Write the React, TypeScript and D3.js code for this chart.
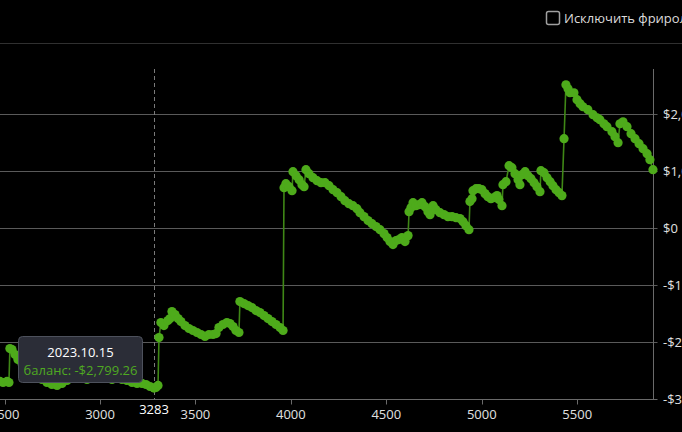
import React, { useEffect, useRef } from "react";
import * as d3 from "d3";

// Game number (x) and running balance in $ (y)
const gameNumbers: number[] = [
  2476, 2492, 2513, 2523, 2528, 2539, 2555, 2570, 2591, 2617, 2644, 2670, 2696, 2722, 2748, 2775, 2801, 2827, 2853, 2879,
  2906, 2932, 2958, 2984, 3010, 3037, 3063, 3089, 3115, 3141, 3168, 3194, 3220, 3241, 3262, 3283, 3293, 3304,
  3309, 3319, 3335, 3356, 3367, 3377, 3393, 3409, 3424, 3445, 3466, 3487, 3508, 3529, 3550, 3571, 3592, 3608, 3623, 3644,
  3665, 3681, 3697, 3712, 3728,
  3733, 3754, 3775, 3796, 3817, 3838, 3859, 3880, 3901, 3922, 3943, 3959,
  3964, 3974, 3990, 4006,
  4011, 4027, 4043, 4058, 4069, 4079, 4095, 4116, 4137, 4158, 4179, 4200, 4221, 4242, 4263, 4283, 4304, 4325, 4346, 4362,
  4383, 4404, 4425, 4446, 4467, 4488, 4504, 4519, 4535, 4551, 4566, 4582, 4598, 4614,
  4619, 4629, 4640, 4655, 4671, 4687, 4703, 4718, 4729, 4745, 4760, 4781, 4802, 4823, 4844, 4865, 4886, 4902, 4917, 4933,
  4938, 4949, 4954, 4970, 4985, 5001, 5017, 5032, 5048, 5064, 5080, 5090, 5106,
  5111, 5127,
  5143, 5158, 5174, 5190, 5200, 5211, 5227, 5242, 5258, 5274, 5289, 5305,
  5310, 5326, 5342, 5358, 5373, 5389, 5405, 5420,
  5431, 5441, 5452, 5462, 5483, 5499, 5515, 5530, 5556, 5583, 5604, 5619, 5640, 5656, 5682, 5698, 5714,
  5724, 5740, 5761, 5782, 5803, 5824, 5845, 5866, 5881, 5897,
];

const balances: number[] = [
  -2684, -2702, -2684, -2702, -2106, -2124, -2212, -2299, -2369, -2439, -2509, -2579, -2649, -2702, -2737, -2754, -2719, -2667, -2632, -2614,
  -2632, -2649, -2614, -2597, -2614, -2632, -2649, -2632, -2649, -2667, -2702, -2719, -2719, -2737, -2772, -2799.26, -2789, -2754,
  -1914, -1651, -1704, -1616, -1581, -1459, -1511, -1581, -1634, -1704, -1756, -1791, -1826, -1861, -1896, -1861, -1861, -1844, -1739, -1686,
  -1651, -1669, -1721, -1791, -1826,
  -1284, -1319, -1354, -1389, -1441, -1476, -1529, -1581, -1634, -1686, -1739, -1791,
  713, 783, 730, 660,
  993, 923, 853, 765, 730, 1028, 958, 888, 835, 800, 800, 748, 678, 625, 555, 485, 432, 397, 345, 275,
  205, 135, 82, 30, -23, -93, -163, -233, -285, -215, -198, -163, -233, -128,
  292, 362, 450, 397, 415, 450, 380, 292, 240, 397, 327, 275, 240, 205, 205, 187, 170, 117, 47, -23,
  468, 520, 660, 695, 695, 678, 608, 555, 520, 538, 573, 503, 397,
  765, 818,
  1098, 1063, 958, 853, 765, 940, 993, 923, 870, 800, 730, 643,
  1010, 975, 888, 818, 748, 678, 625, 573,
  1571, 2516, 2446, 2376, 2376, 2254, 2184, 2131, 2079, 1991, 1938, 1904, 1833, 1781, 1693, 1606, 1501,
  1833, 1868, 1781, 1658, 1571, 1483, 1396, 1308, 1203, 1028,
];

const xTickValues: number[] = [2500, 3000, 3500, 4000, 4500, 5000, 5500];
const yTickValues: number[] = [-3000, -2000, -1000, 0, 1000, 2000];

const pointerGame = 3283;
const tooltipDate = "2023.10.15";
const tooltipLabel = "баланс";
const tooltipBalance = -2799.26;
const checkboxLabel = "Исключить фрироллы";

const FONT = "'Open Sans', 'Noto Sans', sans-serif";

function money(v: number, digits = 0): string {
  const f = d3.format(digits ? `,.${digits}f` : ",");
  return (v < 0 ? "-$" : "$") + f(Math.abs(v));
}

export default function App() {
  const ref = useRef<SVGSVGElement | null>(null);

  useEffect(() => {
    const W = 682;
    const H = 432;
    const plotTop = 69;
    const plotBottom = 399.5;
    const plotRight = 653.5;

    const svg = d3.select(ref.current);
    svg.selectAll("*").remove();

    const x = d3.scaleLinear().domain([3000, 5500]).range([100, 577.2]);
    const y = d3.scaleLinear().domain([-3000, 2000]).range([plotBottom, 114.2]);

    svg.append("rect").attr("width", W).attr("height", H).attr("fill", "#000");

    // header separator
    svg.append("line").attr("x1", 0).attr("x2", W).attr("y1", 43.5).attr("y2", 43.5)
      .attr("stroke", "#303030").attr("stroke-width", 1);

    // checkbox
    svg.append("rect").attr("x", 546.5).attr("y", 11.5).attr("width", 13).attr("height", 13)
      .attr("rx", 2).attr("fill", "none").attr("stroke", "#a0a0a0").attr("stroke-width", 1.5);
    svg.append("text").attr("x", 564).attr("y", 23).attr("fill", "#dcdcdc")
      .attr("font-family", FONT).attr("font-size", 13).text(checkboxLabel);

    // grid lines
    svg.append("g").selectAll("line").data(yTickValues.filter(v => v !== -3000)).join("line")
      .attr("x1", 0).attr("x2", plotRight + 4)
      .attr("y1", d => Math.round(y(d)) + 0.5).attr("y2", d => Math.round(y(d)) + 0.5)
      .attr("stroke", "#5a5a5a").attr("stroke-width", 1);

    // x axis
    svg.append("line").attr("x1", 0).attr("x2", plotRight + 4).attr("y1", plotBottom).attr("y2", plotBottom)
      .attr("stroke", "#6a6a6a");
    svg.append("g").selectAll("line").data(xTickValues).join("line")
      .attr("x1", d => Math.round(x(d)) + 0.5).attr("x2", d => Math.round(x(d)) + 0.5)
      .attr("y1", plotBottom).attr("y2", plotBottom + 5).attr("stroke", "#6a6a6a");
    svg.append("g").selectAll("text").data(xTickValues).join("text")
      .attr("x", d => x(d)).attr("y", 419).attr("text-anchor", "middle")
      .attr("fill", "#e0e0e0").attr("font-family", FONT).attr("font-size", 13)
      .text(d => String(d));

    // y axis (right)
    svg.append("line").attr("x1", plotRight).attr("x2", plotRight).attr("y1", plotTop).attr("y2", plotBottom)
      .attr("stroke", "#6a6a6a");
    svg.append("g").selectAll("text").data(yTickValues).join("text")
      .attr("x", 663).attr("y", d => y(d) + 4.5)
      .attr("fill", "#e0e0e0").attr("font-family", FONT).attr("font-size", 13)
      .text(d => money(d));

    // axis pointer
    const px = Math.round(x(pointerGame)) + 0.5;
    svg.append("line").attr("x1", px).attr("x2", px).attr("y1", plotTop).attr("y2", plotBottom)
      .attr("stroke", "#7a7a7a").attr("stroke-dasharray", "4,3");

    // series
    const pts = gameNumbers.map((g, i) => [g, balances[i]] as [number, number]);
    const line = d3.line<[number, number]>().x(d => x(d[0])).y(d => y(d[1]));
    svg.append("path").attr("d", line(pts) || "").attr("fill", "none")
      .attr("stroke", "#3f8716").attr("stroke-width", 1.6);
    svg.append("g").selectAll("circle").data(pts).join("circle")
      .attr("cx", d => x(d[0])).attr("cy", d => y(d[1])).attr("r", 4.6)
      .attr("fill", "#4eab1b");

    // pointer label
    svg.append("text").attr("x", x(pointerGame)).attr("y", 414).attr("text-anchor", "middle")
      .attr("fill", "#ffffff").attr("font-family", FONT).attr("font-size", 13)
      .text(String(pointerGame));

    // tooltip
    const tip = svg.append("g");
    tip.append("rect").attr("x", 18.5).attr("y", 336.5).attr("width", 124).attr("height", 46)
      .attr("rx", 4).attr("fill", "#2b2d37").attr("stroke", "#4d515c").attr("stroke-width", 1);
    tip.append("text").attr("x", 80.5).attr("y", 356.5).attr("text-anchor", "middle")
      .attr("fill", "#ffffff").attr("font-family", FONT).attr("font-size", 13).text(tooltipDate);
    tip.append("text").attr("x", 80.5).attr("y", 374.5).attr("text-anchor", "middle")
      .attr("fill", "#4fa922").attr("font-family", FONT).attr("font-size", 13)
      .text(`${tooltipLabel}: ${money(tooltipBalance, 2)}`);
  }, []);

  return (
    <svg
      ref={ref}
      width={682}
      height={432}
      style={{ position: "fixed", left: 0, top: 0, display: "block", background: "#000" }}
    />
  );
}
